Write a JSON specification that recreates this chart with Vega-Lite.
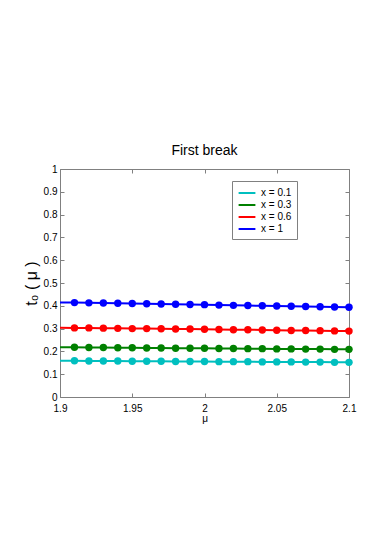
{
  "$schema": "https://vega.github.io/schema/vega-lite/v6.json",
  "width": 289,
  "height": 228,
  "autosize": {"type": "none"},
  "padding": {"left": 60, "top": 169, "right": 36, "bottom": 148},
  "background": "white",
  "config": {
    "font": "Liberation Sans",
    "view": {"stroke": null},
    "axis": {"grid": false, "domainColor": "#808080", "tickColor": "#808080", "labelColor": "#000000", "labelFontSize": 10, "tickSize": -4, "labelPadding": 7, "labelFlush": false, "titleFontWeight": "normal", "titleColor": "#000000"}
  },
  "title": {"text": "First break", "fontSize": 14, "fontWeight": "normal", "offset": 6, "color": "#000000"},
  "data": {
    "values": [
      {"mu": 1.90, "t": 0.159, "series": "x = 0.1"}, {"mu": 1.91, "t": 0.159, "series": "x = 0.1"}, {"mu": 1.92, "t": 0.158, "series": "x = 0.1"}, {"mu": 1.93, "t": 0.158, "series": "x = 0.1"}, {"mu": 1.94, "t": 0.158, "series": "x = 0.1"}, {"mu": 1.95, "t": 0.157, "series": "x = 0.1"}, {"mu": 1.96, "t": 0.157, "series": "x = 0.1"}, {"mu": 1.97, "t": 0.157, "series": "x = 0.1"}, {"mu": 1.98, "t": 0.156, "series": "x = 0.1"}, {"mu": 1.99, "t": 0.156, "series": "x = 0.1"}, {"mu": 2.00, "t": 0.156, "series": "x = 0.1"}, {"mu": 2.01, "t": 0.155, "series": "x = 0.1"}, {"mu": 2.02, "t": 0.155, "series": "x = 0.1"}, {"mu": 2.03, "t": 0.155, "series": "x = 0.1"}, {"mu": 2.04, "t": 0.154, "series": "x = 0.1"}, {"mu": 2.05, "t": 0.154, "series": "x = 0.1"}, {"mu": 2.06, "t": 0.154, "series": "x = 0.1"}, {"mu": 2.07, "t": 0.153, "series": "x = 0.1"}, {"mu": 2.08, "t": 0.153, "series": "x = 0.1"}, {"mu": 2.09, "t": 0.152, "series": "x = 0.1"}, {"mu": 2.10, "t": 0.152, "series": "x = 0.1"},
      {"mu": 1.90, "t": 0.218, "series": "x = 0.3"}, {"mu": 1.91, "t": 0.218, "series": "x = 0.3"}, {"mu": 1.92, "t": 0.217, "series": "x = 0.3"}, {"mu": 1.93, "t": 0.217, "series": "x = 0.3"}, {"mu": 1.94, "t": 0.216, "series": "x = 0.3"}, {"mu": 1.95, "t": 0.216, "series": "x = 0.3"}, {"mu": 1.96, "t": 0.215, "series": "x = 0.3"}, {"mu": 1.97, "t": 0.215, "series": "x = 0.3"}, {"mu": 1.98, "t": 0.214, "series": "x = 0.3"}, {"mu": 1.99, "t": 0.214, "series": "x = 0.3"}, {"mu": 2.00, "t": 0.214, "series": "x = 0.3"}, {"mu": 2.01, "t": 0.213, "series": "x = 0.3"}, {"mu": 2.02, "t": 0.213, "series": "x = 0.3"}, {"mu": 2.03, "t": 0.212, "series": "x = 0.3"}, {"mu": 2.04, "t": 0.212, "series": "x = 0.3"}, {"mu": 2.05, "t": 0.211, "series": "x = 0.3"}, {"mu": 2.06, "t": 0.211, "series": "x = 0.3"}, {"mu": 2.07, "t": 0.210, "series": "x = 0.3"}, {"mu": 2.08, "t": 0.210, "series": "x = 0.3"}, {"mu": 2.09, "t": 0.209, "series": "x = 0.3"}, {"mu": 2.10, "t": 0.209, "series": "x = 0.3"},
      {"mu": 1.90, "t": 0.304, "series": "x = 0.6"}, {"mu": 1.91, "t": 0.303, "series": "x = 0.6"}, {"mu": 1.92, "t": 0.303, "series": "x = 0.6"}, {"mu": 1.93, "t": 0.302, "series": "x = 0.6"}, {"mu": 1.94, "t": 0.301, "series": "x = 0.6"}, {"mu": 1.95, "t": 0.300, "series": "x = 0.6"}, {"mu": 1.96, "t": 0.300, "series": "x = 0.6"}, {"mu": 1.97, "t": 0.299, "series": "x = 0.6"}, {"mu": 1.98, "t": 0.298, "series": "x = 0.6"}, {"mu": 1.99, "t": 0.298, "series": "x = 0.6"}, {"mu": 2.00, "t": 0.297, "series": "x = 0.6"}, {"mu": 2.01, "t": 0.296, "series": "x = 0.6"}, {"mu": 2.02, "t": 0.295, "series": "x = 0.6"}, {"mu": 2.03, "t": 0.295, "series": "x = 0.6"}, {"mu": 2.04, "t": 0.294, "series": "x = 0.6"}, {"mu": 2.05, "t": 0.293, "series": "x = 0.6"}, {"mu": 2.06, "t": 0.292, "series": "x = 0.6"}, {"mu": 2.07, "t": 0.292, "series": "x = 0.6"}, {"mu": 2.08, "t": 0.291, "series": "x = 0.6"}, {"mu": 2.09, "t": 0.290, "series": "x = 0.6"}, {"mu": 2.10, "t": 0.289, "series": "x = 0.6"},
      {"mu": 1.90, "t": 0.415, "series": "x = 1"}, {"mu": 1.91, "t": 0.414, "series": "x = 1"}, {"mu": 1.92, "t": 0.413, "series": "x = 1"}, {"mu": 1.93, "t": 0.412, "series": "x = 1"}, {"mu": 1.94, "t": 0.411, "series": "x = 1"}, {"mu": 1.95, "t": 0.410, "series": "x = 1"}, {"mu": 1.96, "t": 0.409, "series": "x = 1"}, {"mu": 1.97, "t": 0.408, "series": "x = 1"}, {"mu": 1.98, "t": 0.407, "series": "x = 1"}, {"mu": 1.99, "t": 0.406, "series": "x = 1"}, {"mu": 2.00, "t": 0.405, "series": "x = 1"}, {"mu": 2.01, "t": 0.403, "series": "x = 1"}, {"mu": 2.02, "t": 0.402, "series": "x = 1"}, {"mu": 2.03, "t": 0.401, "series": "x = 1"}, {"mu": 2.04, "t": 0.400, "series": "x = 1"}, {"mu": 2.05, "t": 0.399, "series": "x = 1"}, {"mu": 2.06, "t": 0.398, "series": "x = 1"}, {"mu": 2.07, "t": 0.397, "series": "x = 1"}, {"mu": 2.08, "t": 0.396, "series": "x = 1"}, {"mu": 2.09, "t": 0.395, "series": "x = 1"}, {"mu": 2.10, "t": 0.394, "series": "x = 1"}
    ]
  },
  "layer": [
    {
      "mark": {"type": "line", "strokeWidth": 2},
      "encoding": {
        "x": {"field": "mu", "type": "quantitative", "scale": {"domain": [1.9, 2.1], "nice": false, "zero": false},
              "axis": {"values": [1.9, 1.95, 2, 2.05, 2.1], "format": "~g", "title": "μ", "titleFontSize": 10, "titlePadding": 0, "labelPadding": 10}},
        "y": {"field": "t", "type": "quantitative", "scale": {"domain": [0, 1], "nice": false},
              "axis": {"values": [0, 0.1, 0.2, 0.3, 0.4, 0.5, 0.6, 0.7, 0.8, 0.9, 1], "format": "~g", "title": "t₀ ( μ )", "titleFontSize": 16, "titlePadding": 4}},
        "color": {"field": "series", "type": "nominal",
                  "scale": {"domain": ["x = 0.1", "x = 0.3", "x = 0.6", "x = 1"], "range": ["#00BFBF", "#008000", "#FF0000", "#0000FF"]},
                  "legend": {"title": null, "orient": "none", "legendX": 172, "legendY": 12, "symbolType": "M-1.4,0H1.4", "symbolSize": 144, "symbolStrokeWidth": 2, "symbolOffset": 3, "labelFontSize": 10, "strokeColor": "#808080", "fillColor": "white", "padding": 5, "rowPadding": 0, "labelOffset": 7}}
      }
    },
    {
      "transform": [{"filter": "datum.mu > 1.905"}],
      "mark": {"type": "point", "filled": true, "opacity": 1, "size": 55},
      "encoding": {
        "x": {"field": "mu", "type": "quantitative", "axis": {"orient": "top", "values": [1.9, 1.95, 2, 2.05, 2.1], "labels": false, "title": null}},
        "y": {"field": "t", "type": "quantitative", "axis": {"orient": "right", "values": [0, 0.1, 0.2, 0.3, 0.4, 0.5, 0.6, 0.7, 0.8, 0.9, 1], "labels": false, "title": null}},
        "color": {"field": "series", "type": "nominal", "legend": null}
      }
    }
  ],
  "resolve": {"axis": {"x": "independent", "y": "independent"}}
}
